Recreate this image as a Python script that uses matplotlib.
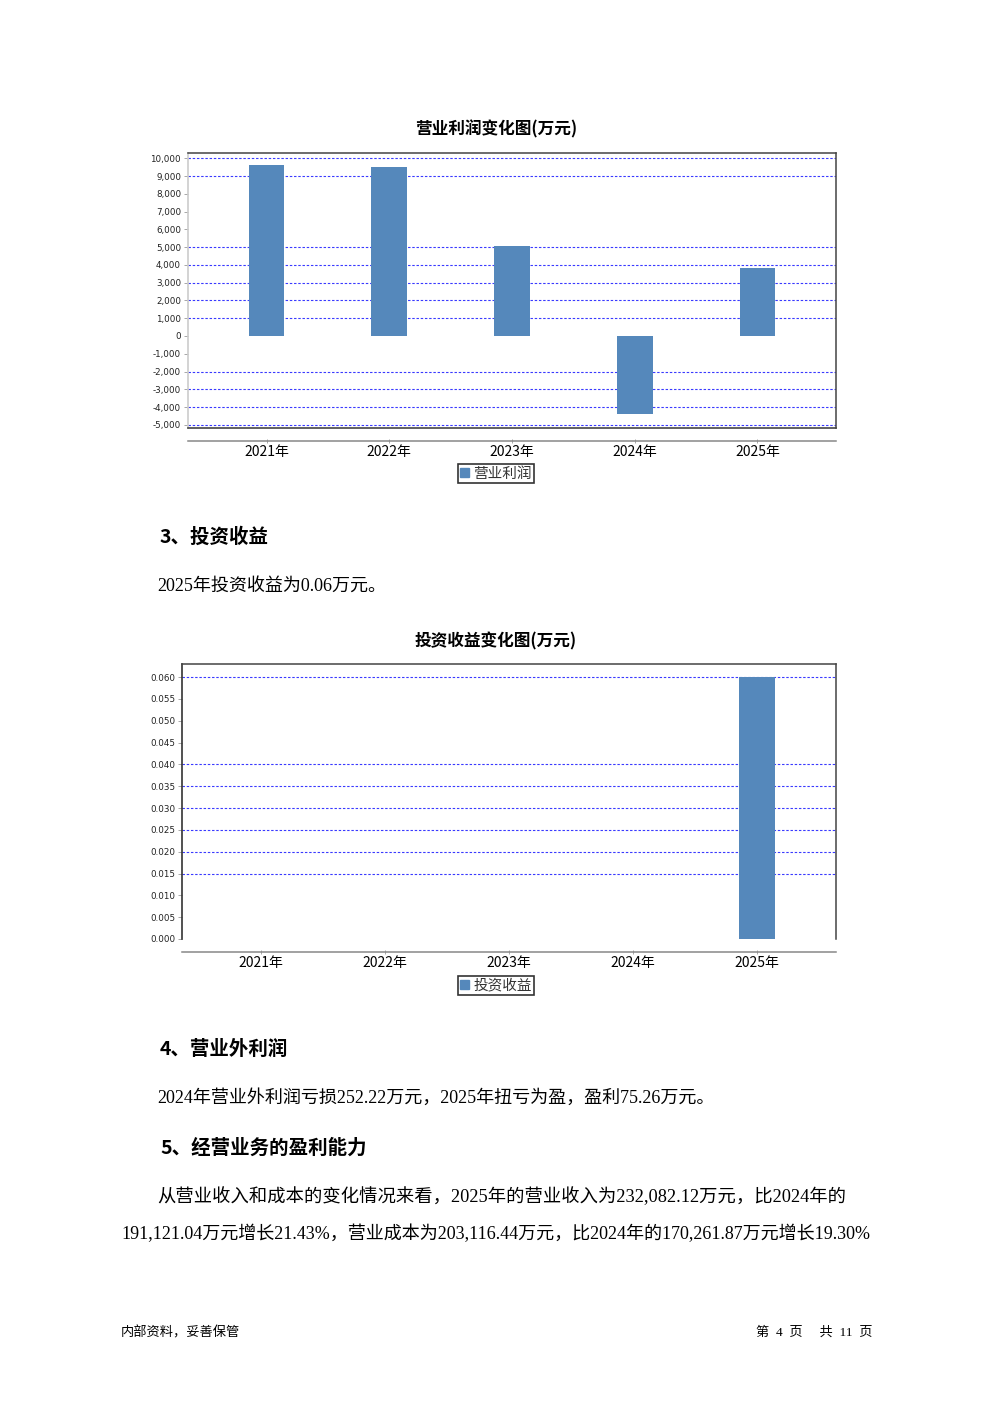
import numpy as np
import matplotlib
matplotlib.use('Agg')
import matplotlib.pyplot as plt
from matplotlib.patches import Patch

plt.rcParams['font.family'] = ['Noto Sans CJK SC', 'DejaVu Sans']

'''Data'''
years = ['2021年', '2022年', '2023年', '2024年', '2025年']
op_profit = [9610, 9530, 5060, -4390, 3830]          # 营业利润 (万元)
inv_income = [0, 0, 0, 0, 0.06]                      # 投资收益 (万元)
ticks1 = list(range(-5000, 10001, 1000))
grid1 = [10000, 9000, 5000, 4000, 3000, 2000, 1000, -2000, -3000, -4000, -5000]
ticks2 = [i * 0.005 for i in range(13)]
grid2 = [0.060, 0.040, 0.035, 0.030, 0.025, 0.020, 0.015]

W, H = 992, 1403
BAR = '#5588bb'
GRID = '#3a3aff'
body = ['Liberation Serif', 'Noto Sans CJK SC']
sans = ['Noto Sans CJK SC', 'DejaVu Sans']

fig = plt.figure(figsize=(W / 100, H / 100), dpi=100)

def px_axes(l, t, r, b):
    return fig.add_axes([l / W, 1 - b / H, (r - l) / W, (b - t) / H])

def ftext(x, y, s, **kw):
    fig.text(x / W, 1 - y / H, s, **kw)

def bar_chart(ax, vals, ticks, grid, ylim, fmt, label, left_col, bottom_border):
    x = np.arange(len(years))
    ax.bar(x, vals, width=0.29, color=BAR, zorder=3)
    for g in grid:
        ax.axhline(g, color=GRID, lw=0.8, ls=(0, (2.2, 1.6)), zorder=1)
    ax.set_xlim(-0.64, len(years) - 1 + 0.64)
    ax.set_ylim(*ylim)
    ax.set_yticks(ticks)
    ax.set_yticklabels([fmt(t) for t in ticks], fontsize=6.3, color='#222222',
                       family='DejaVu Sans')
    ax.set_xticks(x)
    ax.set_xticklabels(years, fontsize=7.5, color='#333333')
    ax.tick_params(axis='y', length=3, width=0.6, color='#999999', pad=2)
    ax.tick_params(axis='x', length=3, width=0.6, color='#999999', pad=2,
                   direction='inout')
    for s in ['top', 'right']:
        ax.spines[s].set_color('#444444')
        ax.spines[s].set_linewidth(1.1)
    ax.spines['left'].set_color(left_col)
    ax.spines['left'].set_linewidth(1.2)
    ax.spines['bottom'].set_position(('outward', 9))
    ax.spines['bottom'].set_color('#888888')
    ax.spines['bottom'].set_linewidth(1.1)
    if bottom_border:
        ax.axhline(ylim[0], color='#444444', lw=1.2, zorder=4, clip_on=False)
    ax.set_facecolor('white')
    return Patch(facecolor=BAR, edgecolor=BAR, label=label)

def legend(ax, h, y):
    lg = ax.legend(handles=[h], loc='center', bbox_to_anchor=(496 / W, 1 - y / H),
                   bbox_transform=fig.transFigure, fontsize=10.5, frameon=True,
                   fancybox=False, handlelength=0.6, handleheight=0.6,
                   handletextpad=0.3, borderpad=0.15, borderaxespad=0)
    lg.get_frame().set_edgecolor('black')
    lg.get_frame().set_linewidth(1.2)
    for t in lg.get_texts():
        t.set_color('#333333')

'''Chart 1'''
ax1 = px_axes(188, 153, 836, 428)
h1 = bar_chart(ax1, op_profit, ticks1, grid1, (-5180, 10300),
               lambda v: '{:,}'.format(v), '营业利润', '#cccccc', True)
legend(ax1, h1, 473.5)
ftext(496, 129, '营业利润变化图(万元)', fontsize=12, fontweight='bold',
      ha='center', va='center', family=sans)

'''Chart 2'''
ax2 = px_axes(182, 664, 836, 939)
h2 = bar_chart(ax2, inv_income, ticks2, grid2, (0, 0.063),
               lambda v: '{:.3f}'.format(v), '投资收益', '#333333', False)
legend(ax2, h2, 985.5)
ftext(496, 641, '投资收益变化图(万元)', fontsize=12, fontweight='bold',
      ha='center', va='center', family=sans)

'''Text of the page'''
ftext(160, 537, '3、投资收益', fontsize=14, fontweight='bold', va='center', family=sans)
ftext(157, 586, '2025年投资收益为0.06万元。', fontsize=13, va='center', family=body)
ftext(160, 1049, '4、营业外利润', fontsize=14, fontweight='bold', va='center', family=sans)
ftext(157, 1098, '2024年营业外利润亏损252.22万元，2025年扭亏为盈，盈利75.26万元。',
      fontsize=13, va='center', family=body)
ftext(160, 1148, '5、经营业务的盈利能力', fontsize=14, fontweight='bold', va='center', family=sans)
ftext(157, 1197, '从营业收入和成本的变化情况来看，2025年的营业收入为232,082.12万元，比2024年的',
      fontsize=13.2, va='center', family=body)
ftext(121, 1234, '191,121.04万元增长21.43%，营业成本为203,116.44万元，比2024年的170,261.87万元增长19.30%',
      fontsize=13, va='center', family=body)
ftext(121, 1333, '内部资料，妥善保管', fontsize=9.5, va='center', family=body)
ftext(872, 1333, '第  4  页     共  11  页', fontsize=9.5, va='center', ha='right', family=body)

fig.savefig('out.png', dpi=100, facecolor='white')
